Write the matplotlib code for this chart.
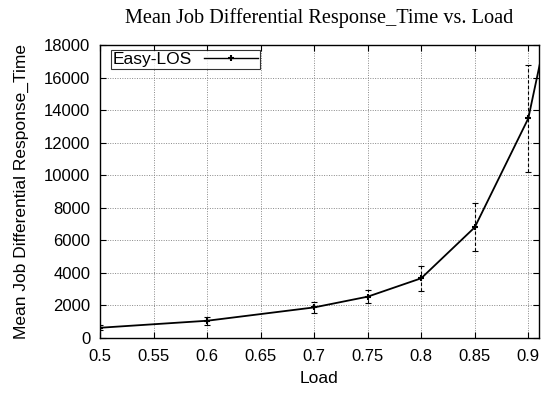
import numpy as np
import matplotlib.pyplot as plt

load = [0.5, 0.6, 0.7, 0.75, 0.8, 0.85, 0.9, 0.95]
resp = [630, 1060, 1880, 2540, 3670, 6800, 13490, 29000]
err = [150, 260, 360, 390, 770, 1480, 3280, 6000]
xticks = [0.5, 0.55, 0.6, 0.65, 0.7, 0.75, 0.8, 0.85, 0.9]
yticks = list(range(0, 18001, 2000))

plt.rcParams['font.family'] = 'Liberation Sans'
plt.rcParams['font.size'] = 12

fig = plt.figure(figsize=(5.44, 3.94), dpi=100)
ax = fig.add_axes([0.1838, 0.1421, 0.8070, 0.7437])

ax.errorbar(load, resp, yerr=err, fmt='none', ecolor='black', elinewidth=0.8,
            capsize=2, capthick=0.8)
eb = ax.containers[-1]
for lc in eb.lines[2]:
    lc.set_linestyle((0, (3, 2)))
ax.plot(load, resp, color='black', lw=1.3, marker='+', ms=5, mew=1.5,
        label='Easy-LOS')

ax.set_xlim(0.5, 0.91)
ax.set_ylim(0, 18000)
ax.set_xticks(xticks)
ax.set_xticklabels([f'{t:g}' for t in xticks])
ax.set_yticks(yticks)
ax.tick_params(direction='in', top=True, right=True, length=4, width=0.8)
ax.tick_params(axis='x', pad=8)
ax.tick_params(axis='y', pad=7)
ax.grid(True, color='#888888', linestyle=(0, (1, 1.5)), lw=0.7)
for s in ax.spines.values():
    s.set_linewidth(1.0)

ax.set_xlabel('Load', fontsize=12.5, labelpad=5)
ax.set_ylabel('Mean Job Differential Response_Time', fontsize=12.5, labelpad=11)
ax.set_title('Mean Job Differential Response_Time vs. Load',
             family='Liberation Serif', fontsize=14.6, pad=16)

leg = ax.legend(loc='upper left', bbox_to_anchor=(0.025, 0.983), fontsize=12.5,
                markerfirst=False, frameon=True, fancybox=False,
                borderpad=0.1, handlelength=3.1, borderaxespad=0,
                handletextpad=0.7)
leg.get_frame().set_edgecolor('black')
leg.get_frame().set_linewidth(0.8)
for h in leg.get_lines():
    h.set_linewidth(1.0)

fig.savefig('out.png', dpi=100)
